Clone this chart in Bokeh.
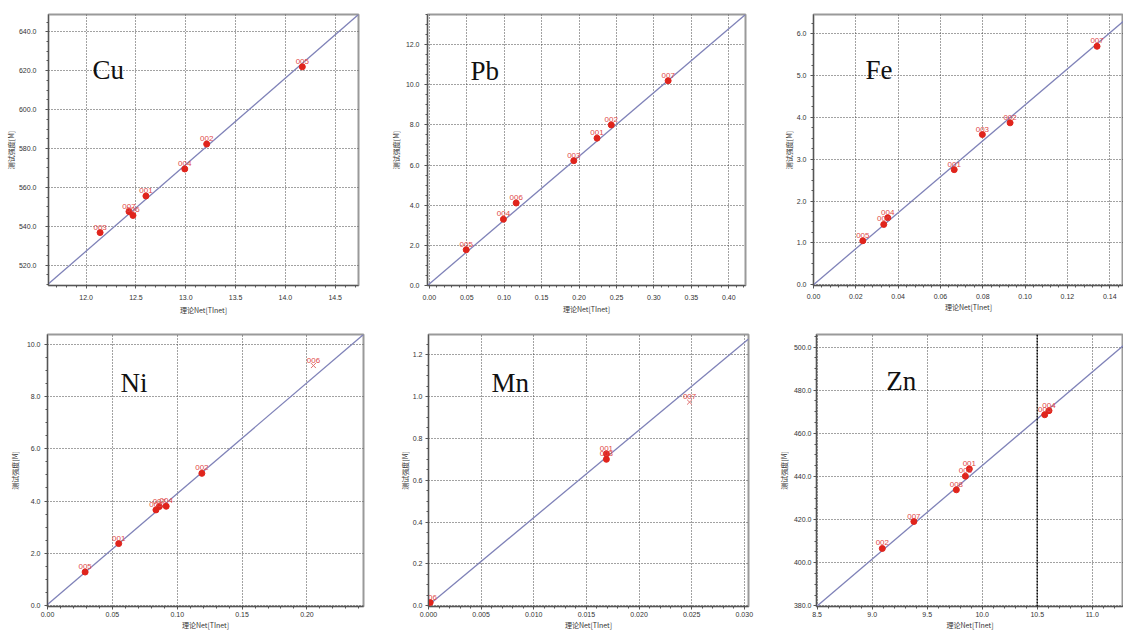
from bokeh.plotting import figure
from bokeh.layouts import row, column
from bokeh.models import Label, SingleIntervalTicker, NumeralTickFormatter, Range1d, Span
from bokeh.core.properties import value
from bokeh.embed import file_html
from bokeh.resources import INLINE

# ---------------- data ----------------
elements = ["Cu", "Pb", "Fe", "Ni", "Mn", "Zn"]

cu_x = [12.14, 12.43, 12.47, 12.60, 12.99, 13.21, 14.17]
cu_y = [536.8, 547.6, 545.6, 555.6, 569.5, 582.3, 622.0]
cu_id = ["003", "007", "006", "001", "004", "002", "005"]

pb_x = [0.0493, 0.099, 0.116, 0.193, 0.224, 0.243, 0.319]
pb_y = [1.78, 3.30, 4.11, 6.22, 7.34, 8.00, 10.2]
pb_id = ["005", "004", "006", "003", "001", "002", "007"]

fe_x = [0.0233, 0.0332, 0.0351, 0.0665, 0.0798, 0.0929, 0.134]
fe_y = [1.05, 1.44, 1.60, 2.75, 3.59, 3.87, 5.70]
fe_id = ["005", "006", "004", "001", "003", "002", "007"]

ni_x = [0.029, 0.0549, 0.0836, 0.0862, 0.0915, 0.119, 0.205]
ni_y = [1.28, 2.37, 3.66, 3.79, 3.80, 5.06, 9.19]
ni_id = ["005", "001", "003", "007", "004", "002", "006"]

mn_x = [0.00016, 0.0169, 0.0169, 0.0248]
mn_y = [0.016, 0.726, 0.700, 0.973]
mn_id = ["006", "001", "003", "007"]

zn_x = [9.092, 9.379, 9.765, 9.847, 9.883, 10.568, 10.607]
zn_y = [406.6, 419.1, 433.8, 440.1, 443.5, 468.6, 470.5]
zn_id = ["002", "007", "008", "003", "001", "006", "004"]

# points drawn as "x" (excluded samples)
outlier_ids = {"Ni": ["006"], "Mn": ["007"]}

# calibration lines
fit_slope = [44.49, 31.78, 43.0, 42.45, 41.83, 43.37]
fit_intercept = [-6.6, 0.08, 0.0, 0.04, 0.003, 11.36]

x_label = "理论Net[TInet]"
y_label = "测试强度[M]"

# ---------------- layout/style ----------------
x_ranges = [(11.622, 14.734), (-0.0024, 0.4223), (0.0, 0.1465),
            (0.0, 0.2436), (0.0, 0.0304), (8.494, 11.284)]
y_ranges = [(509.6, 648.9), (0.0, 13.5), (-0.02, 6.46),
            (-0.04, 10.38), (-0.003, 1.296), (379.7, 505.8)]
x_steps = [0.5, 0.05, 0.02, 0.05, 0.005, 0.5]
y_steps = [20, 2, 1, 2, 0.2, 20]
x_fmts = ["0.0", "0.00", "0.00", "0.00", "0.000", "0.0"]
y_fmts = ["0.0"] * 6
# (border_left, frame_w, border_right, border_top, frame_h, border_bottom)
geoms = [(48, 310, 29, 13, 277, 32), (40, 318, 28, 14, 273, 35), (40, 310, 0, 14, 271, 37),
         (47, 316, 25, 8, 276, 26), (40, 320, 27, 9, 276, 25), (40, 308, 0, 12, 276, 22)]
title_offsets = [(44, 57), (43, 57), (52, 55), (73, 49), (63, 49), (70, 47)]
# (x tick standoff, x label standoff, y tick standoff, y label standoff)
standoffs = [(6, 2, 9, 0), (6, 1, 5, 2), (5, 0, 4, 0),
             (2, 0, 4, 4), (2, 0, 3, 0), (2, 0, 2, 2)]

series = [(cu_x, cu_y, cu_id), (pb_x, pb_y, pb_id), (fe_x, fe_y, fe_id),
          (ni_x, ni_y, ni_id), (mn_x, mn_y, mn_id), (zn_x, zn_y, zn_id)]

RED = "#e0241c"
LABEL_RED = "#e04848"
TICK_FONT = "Liberation Sans"
CJK_FONT = "Noto Sans CJK SC"

figs = []
for i, name in enumerate(elements):
    xs, ys, ids = series[i]
    bl, fw, br, bt, fh, bb = geoms[i]
    x0, x1 = x_ranges[i]
    y0, y1 = y_ranges[i]
    p = figure(width=bl + fw + br, height=bt + fh + bb,
               x_range=Range1d(x0, x1), y_range=Range1d(y0, y1),
               output_backend="svg", toolbar_location=None,
               min_border_left=bl, min_border_right=br,
               min_border_top=bt, min_border_bottom=bb)
    p.background_fill_color = "white"
    p.border_fill_color = "white"
    p.outline_line_color = "#9a9a9a"
    p.outline_line_width = 2

    p.xaxis.ticker = SingleIntervalTicker(interval=x_steps[i], num_minor_ticks=5)
    p.yaxis.ticker = SingleIntervalTicker(interval=y_steps[i], num_minor_ticks=4)
    p.xaxis.formatter = NumeralTickFormatter(format=x_fmts[i])
    p.yaxis.formatter = NumeralTickFormatter(format=y_fmts[i])

    for ax in (p.xaxis[0], p.yaxis[0]):
        ax.axis_line_color = "#555555"
        ax.major_tick_line_color = "#555555"
        ax.minor_tick_line_color = "#555555"
        ax.major_tick_in = 0
        ax.major_tick_out = 3
        ax.minor_tick_in = 0
        ax.minor_tick_out = 2
        ax.major_label_text_font = TICK_FONT
        ax.major_label_text_font_size = "7px"
        ax.major_label_text_color = "#333333"
        ax.axis_label_text_font = CJK_FONT
        ax.axis_label_text_font_size = "7px"
        ax.axis_label_text_font_style = "normal"
        ax.axis_label_text_color = "#333333"
    xts, xls, yts, yls = standoffs[i]
    p.xaxis.major_label_standoff = xts
    p.xaxis.axis_label_standoff = xls
    p.yaxis.major_label_standoff = yts
    p.yaxis.axis_label_standoff = yls
    p.xaxis.axis_label = x_label
    p.yaxis.axis_label = y_label

    p.grid.grid_line_color = "#444444"
    p.grid.grid_line_dash = "1 2"
    p.grid.grid_line_width = 1

    if name == "Zn":
        p.add_layout(Span(location=10.5, dimension="height", line_color="#111111",
                          line_dash="2 1", line_width=1.6))

    # calibration line
    a, b = fit_slope[i], fit_intercept[i]
    p.line([x0, x1], [a * x0 + b, a * x1 + b], line_color="#7f82b8", line_width=1.3)

    out = outlier_ids.get(name, [])
    cx = [x for x, s in zip(xs, ids) if s not in out]
    cy = [y for y, s in zip(ys, ids) if s not in out]
    ox = [x for x, s in zip(xs, ids) if s in out]
    oy = [y for y, s in zip(ys, ids) if s in out]
    p.scatter(cx, cy, marker="circle", size=6, fill_color=RED, line_color=RED)
    if ox:
        p.scatter(ox, oy, marker="x", size=7, line_color="#e07070", line_width=1)
    p.text(x=xs, y=ys, text=ids, text_align="center", text_baseline="bottom",
           y_offset=-3, text_font=value(TICK_FONT), text_font_size="8px",
           text_color=LABEL_RED)

    dx, dy = title_offsets[i]
    tx = x0 + dx * (x1 - x0) / fw
    ty = y1 - dy * (y1 - y0) / fh
    p.add_layout(Label(x=tx, y=ty, text=name, text_font="Liberation Serif",
                       text_font_size="27px", text_color="#111111",
                       text_baseline="alphabetic"))
    figs.append(p)

layout = column(row(figs[0], figs[1], figs[2]), row(figs[3], figs[4], figs[5]))
open("out.html", "w").write(file_html(layout, INLINE))
